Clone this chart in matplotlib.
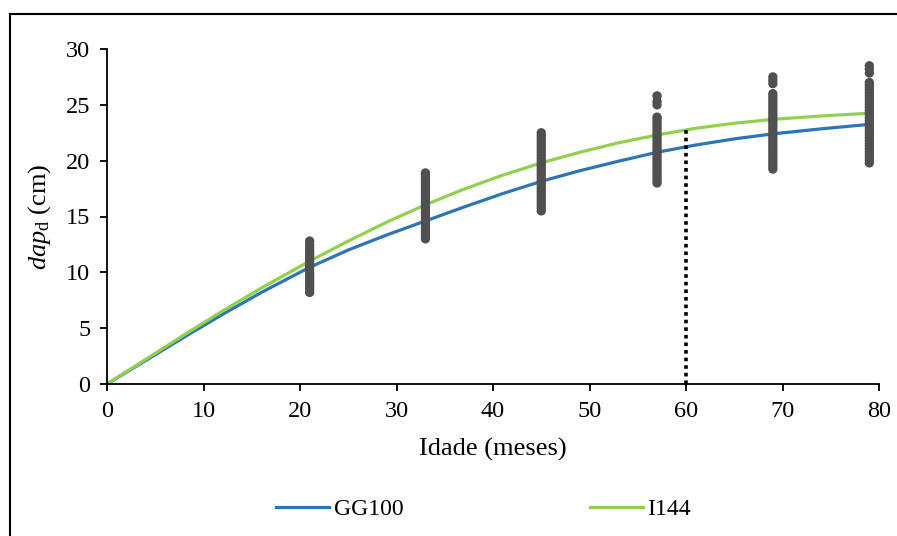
import numpy as np
import matplotlib.pyplot as plt
from matplotlib.lines import Line2D

plt.rcParams['font.family'] = ['Liberation Serif', 'DejaVu Serif']
plt.rcParams['mathtext.fontset'] = 'custom'
plt.rcParams['mathtext.rm'] = 'Liberation Serif'
plt.rcParams['mathtext.it'] = 'Liberation Serif:italic'

# Fitted curves (age in months -> dap_d in cm)
age_curve = [0, 4, 8, 12, 16, 21, 25, 29, 33, 37, 41, 45, 49, 53, 57, 61, 65, 69, 74, 79]
gg100 = [0, 2.1, 4.2, 6.25, 8.2, 10.45, 12.0, 13.35, 14.6, 15.85, 17.05, 18.15, 19.1,
         19.95, 20.75, 21.4, 21.95, 22.4, 22.85, 23.25]
i144 = [0, 2.2, 4.4, 6.55, 8.6, 11.0, 12.8, 14.5, 16.05, 17.45, 18.7, 19.8, 20.75, 21.6,
        22.3, 22.9, 23.35, 23.7, 24.0, 24.25]

# Observed dap_d per measurement age
obs_ages = [21, 33, 45, 57, 69, 79]
obs_21 = [8.2, 8.45, 8.7, 8.95, 9.2, 9.45, 9.7, 9.95, 10.2, 10.45, 10.7, 10.95, 11.2,
          11.45, 11.7, 11.95, 12.2, 12.45, 12.8]
obs_33 = [13.0, 13.25, 13.5, 13.75, 14.0, 14.25, 14.5, 14.75, 15.0, 15.25, 15.5, 15.75,
          16.0, 16.25, 16.5, 16.75, 17.0, 17.25, 17.5, 17.75, 18.0, 18.25, 18.5, 18.75,
          18.9]
obs_45 = [15.5, 15.75, 16.0, 16.25, 16.5, 16.75, 17.0, 17.25, 17.5, 17.75, 18.0, 18.25,
          18.5, 18.75, 19.0, 19.25, 19.5, 19.75, 20.0, 20.25, 20.5, 20.75, 21.0, 21.25,
          21.5, 21.75, 22.0, 22.25, 22.5]
obs_57 = [18.0, 18.25, 18.5, 18.75, 19.0, 19.25, 19.5, 19.75, 20.0, 20.25, 20.5, 20.75,
          21.0, 21.25, 21.5, 21.75, 22.0, 22.25, 22.5, 22.75, 23.0, 23.25, 23.5, 23.75,
          23.9, 25.0, 25.3, 25.8]
obs_69 = [19.25, 19.5, 19.75, 20.0, 20.25, 20.5, 20.75, 21.0, 21.25, 21.5, 21.75, 22.0,
          22.25, 22.5, 22.75, 23.0, 23.25, 23.5, 23.75, 24.0, 24.25, 24.5, 24.75, 25.0,
          25.25, 25.5, 25.75, 26.0, 26.9, 27.2, 27.5]
obs_79 = [19.8, 20.05, 20.3, 20.55, 20.8, 21.05, 21.3, 21.55, 21.8, 22.05, 22.3, 22.55,
          22.8, 23.05, 23.3, 23.55, 23.8, 24.05, 24.3, 24.55, 24.8, 25.05, 25.3, 25.55,
          25.8, 26.05, 26.3, 26.55, 26.8, 27.0, 27.85, 28.2, 28.5]
obs_values = [obs_21, obs_33, obs_45, obs_57, obs_69, obs_79]

ref_age = 60
ref_top = 22.8

fig = plt.figure(figsize=(8.97, 5.36), dpi=100)
ax = fig.add_axes([107 / 897, 1 - 384 / 536, (879 - 107) / 897, (384 - 49) / 536])

ax.plot(age_curve, gg100, color='#2E75B6', lw=2.3, label='GG100', zorder=2)
ax.plot(age_curve, i144, color='#92D050', lw=2.3, label='I144', zorder=2)

for a, vals in zip(obs_ages, obs_values):
    ax.scatter([a] * len(vals), vals, s=45, color='#505050', edgecolors='none', zorder=3)

ax.plot([ref_age, ref_age], [0, ref_top], color='black', lw=2.6, ls=(0, (1, 1.1)), zorder=4)

ax.set_xlim(0, 80)
ax.set_ylim(0, 30)
ax.set_xticks(np.arange(0, 81, 10))
ax.set_yticks(np.arange(0, 31, 5))
for s in ['top', 'right']:
    ax.spines[s].set_visible(False)
for s in ['left', 'bottom']:
    ax.spines[s].set_linewidth(1.3)
ax.tick_params(direction='out', length=5, width=1.3, labelsize=17.5, pad=7)
ax.set_xlabel('Idade (meses)', fontsize=19, labelpad=12)
ax.set_ylabel(r'$dap_{\mathrm{d}}$ (cm)', fontsize=19, labelpad=9)

fig.legend(loc='center', bbox_to_anchor=(0.539, 0.05), ncol=2, frameon=False,
           fontsize=17, handlelength=2.25, handletextpad=0.2, columnspacing=7.9)

# outer chart frame (only left and top edges visible in crop)
fig.add_artist(Line2D([9.5 / 897, 9.5 / 897], [0, 1 - 14 / 536], color='black', lw=1.5,
                      transform=fig.transFigure))
fig.add_artist(Line2D([9.5 / 897, 1], [1 - 14 / 536, 1 - 14 / 536], color='black', lw=1.5,
                      transform=fig.transFigure))

fig.savefig('out.png', dpi=100)
